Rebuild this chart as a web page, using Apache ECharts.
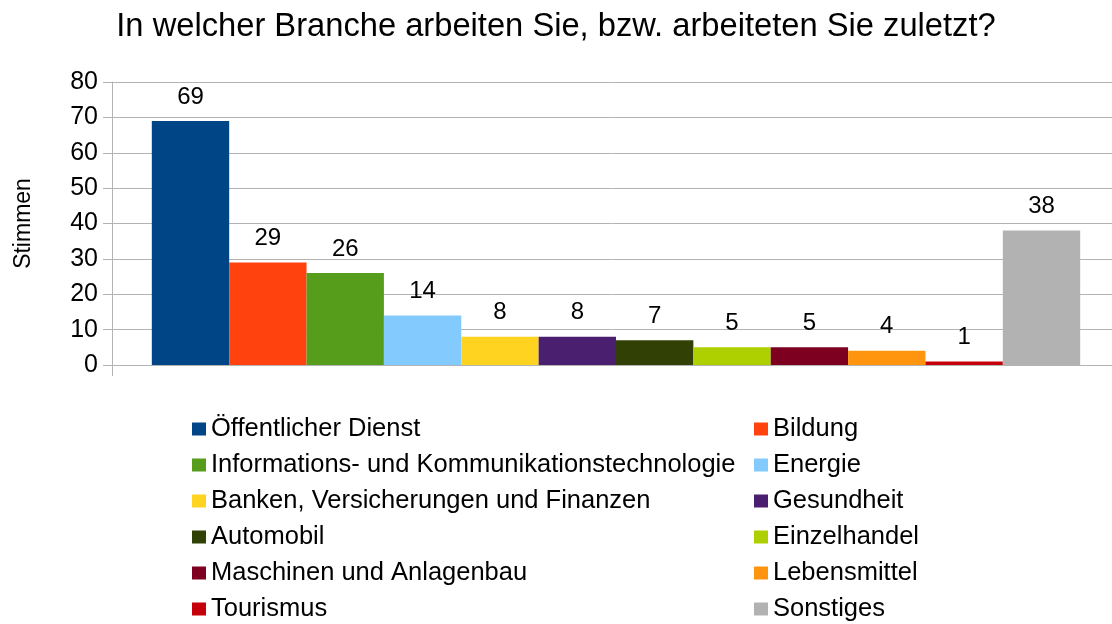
<!DOCTYPE html>
<html>
<head>
<meta charset="utf-8">
<script src="https://cdn.jsdelivr.net/npm/echarts@6/dist/echarts.min.js"></script>
<style>
  html, body { margin: 0; padding: 0; background: #fff; }
  #chart { width: 1112px; height: 624px; }
</style>
</head>
<body>
<div id="chart"></div>
<script>
// Daten
var branchen = [
  "Öffentlicher Dienst", "Bildung",
  "Informations- und Kommunikationstechnologie", "Energie",
  "Banken, Versicherungen und Finanzen", "Gesundheit",
  "Automobil", "Einzelhandel",
  "Maschinen und Anlagenbau", "Lebensmittel",
  "Tourismus", "Sonstiges"
];
var stimmen = [69, 29, 26, 14, 8, 8, 7, 5, 5, 4, 1, 38];
var farben = [
  "#004586", "#ff420e", "#579d1c", "#83caff", "#ffd320", "#4b1f6f",
  "#314004", "#aecf00", "#7e0021", "#ff950e", "#c5000b", "#b2b2b2"
];
var yTicks = [0, 10, 20, 30, 40, 50, 60, 70, 80];

var font = "Liberation Sans";
var chart = echarts.init(document.getElementById("chart"));

var series = branchen.map(function (name, i) {
  return {
    name: name,
    type: "bar",
    barGap: 0,
    barCategoryGap: "7.9%",
    itemStyle: { color: farben[i] },
    label: {
      show: true,
      position: "top",
      distance: 12,
      fontSize: 24,
      fontFamily: font,
      color: "#000"
    },
    data: [stimmen[i]]
  };
});

// Legende in zwei Spalten
var linksNamen = branchen.filter(function (n, i) { return i % 2 === 0; });
var rechtsNamen = branchen.filter(function (n, i) { return i % 2 === 1; });
var legendStyle = {
  orient: "vertical",
  top: 411,
  height: 215,
  itemWidth: 14,
  itemHeight: 13,
  itemGap: 10,
  icon: "rect",
  textStyle: { fontSize: 25.5, fontFamily: font, color: "#000" }
};

var option = {
  animation: false,
  title: {
    text: "In welcher Branche arbeiten Sie, bzw. arbeiteten Sie zuletzt?",
    left: "center",
    top: 5,
    textStyle: { fontSize: 32.7, fontWeight: "normal", fontFamily: font, color: "#000" }
  },
  legend: [
    Object.assign({}, legendStyle, { left: 187, data: linksNamen }),
    Object.assign({}, legendStyle, { left: 749, data: rechtsNamen })
  ],
  grid: { left: 112, right: -8, top: 82, bottom: 259, outerBoundsMode: "none" },
  xAxis: {
    type: "category",
    data: [""],
    axisLine: { show: true, lineStyle: { color: "#b3b3b3" } },
    axisTick: { show: true, length: 11, lineStyle: { color: "#b3b3b3" } },
    axisLabel: { show: false }
  },
  yAxis: {
    type: "value",
    min: 0,
    max: 80,
    interval: 10,
    name: "Stimmen",
    nameLocation: "middle",
    nameGap: 77,
    nameTextStyle: { fontSize: 23, fontFamily: font, color: "#000" },
    axisLine: { show: true, lineStyle: { color: "#b3b3b3" } },
    axisTick: { show: true, length: 9, lineStyle: { color: "#b3b3b3" } },
    splitLine: { show: true, lineStyle: { color: "#b3b3b3" } },
    axisLabel: {
      margin: 14,
      fontSize: 25,
      fontFamily: font,
      color: "#000",
      formatter: function (v) { return yTicks.indexOf(v) >= 0 ? String(v) : ""; }
    }
  },
  series: series
};

chart.setOption(option);
</script>
</body>
</html>
